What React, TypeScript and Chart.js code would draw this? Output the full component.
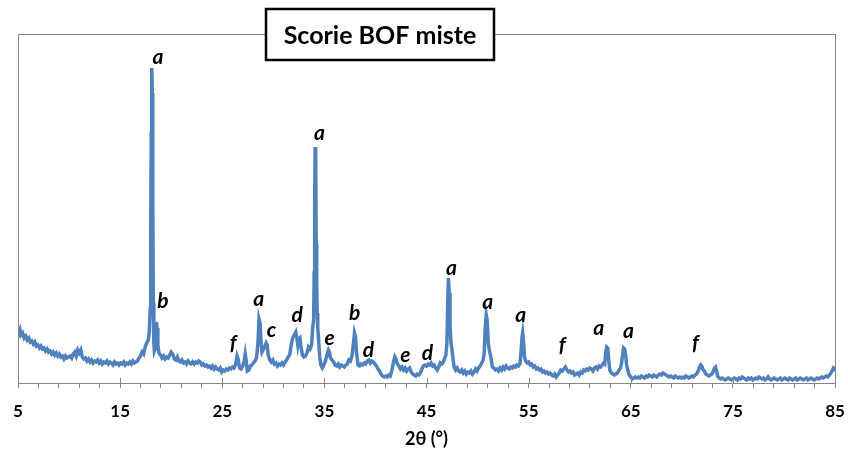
import React, { useEffect, useRef } from 'react';
import { Chart, registerables } from 'chart.js';

Chart.register(...registerables);

const chartTitle = 'Scorie BOF miste';
const xAxisTitle = '2θ (°)';
const xTickValues = [5, 7, 9, 11, 13, 15, 17, 19, 21, 23, 25, 27, 29, 31, 33, 35, 37, 39, 41, 43, 45, 47, 49, 51, 53, 55, 57, 59, 61, 63, 65, 67, 69, 71, 73, 75, 77, 79, 81, 83, 85];
const xMajorTicks = [5, 15, 25, 35, 45, 55, 65, 75, 85];

// [2θ (°), intensity]
const scan: [number, number][] = [
  [5.0, 55], [5.1, 50], [5.2, 53], [5.3, 48], [5.45, 50], [5.6, 45], [5.75, 47], [5.9, 43], [6.05, 45], [6.2, 41],
  [6.35, 42], [6.5, 39], [6.65, 41], [6.8, 37], [6.95, 38], [7.1, 35], [7.25, 37], [7.4, 34], [7.55, 35], [7.7, 32],
  [7.85, 34], [8.0, 31], [8.15, 32], [8.3, 29], [8.45, 31], [8.6, 28], [8.75, 30], [8.9, 27], [9.05, 29], [9.2, 26],
  [9.35, 27], [9.5, 24], [9.65, 27], [9.8, 25], [9.95, 26], [10.1, 27], [10.25, 25], [10.4, 29], [10.55, 31], [10.7, 27],
  [10.85, 33], [11.0, 30], [11.15, 33], [11.3, 26], [11.45, 24], [11.6, 25], [11.75, 22], [11.9, 24], [12.05, 21], [12.2, 23],
  [12.35, 20], [12.5, 22], [12.65, 21], [12.8, 23], [12.95, 20], [13.1, 22], [13.25, 19], [13.4, 21], [13.55, 20], [13.7, 22],
  [13.85, 19], [14.0, 21], [14.15, 20], [14.3, 18], [14.45, 21], [14.6, 19], [14.75, 20], [14.9, 18], [15.05, 20], [15.2, 19],
  [15.35, 21], [15.5, 18], [15.65, 20], [15.8, 19], [15.95, 21], [16.1, 19], [16.25, 22], [16.4, 20], [16.55, 21], [16.7, 22],
  [16.85, 25], [17.0, 27], [17.15, 31], [17.3, 29], [17.45, 36], [17.6, 40], [17.75, 43], [17.85, 50], [17.95, 75], [18.0, 160],
  [18.05, 250], [18.1, 315], [18.15, 290], [18.2, 180], [18.25, 80], [18.3, 40], [18.35, 32], [18.42, 34], [18.5, 50], [18.55, 61],
  [18.62, 55], [18.7, 38], [18.8, 30], [18.95, 28], [19.1, 25], [19.25, 27], [19.4, 24], [19.55, 26], [19.7, 25], [19.85, 28], [20.0, 31],
  [20.15, 29], [20.3, 24], [20.45, 23], [20.6, 26], [20.75, 22], [20.9, 21], [21.05, 23], [21.2, 20], [21.35, 21], [21.5, 19],
  [21.65, 22], [21.8, 20], [21.95, 19], [22.1, 21], [22.25, 19], [22.4, 21], [22.55, 20], [22.7, 22], [22.85, 21], [23.0, 18],
  [23.15, 19], [23.3, 17], [23.45, 18], [23.6, 16], [23.75, 17], [23.9, 15], [24.05, 17], [24.2, 14], [24.35, 16], [24.5, 14],
  [24.65, 13], [24.8, 15], [24.95, 11], [25.1, 13], [25.25, 12], [25.4, 14], [25.55, 13], [25.7, 15], [25.85, 14], [26.0, 16],
  [26.15, 15], [26.3, 18], [26.45, 27], [26.55, 24], [26.7, 15], [26.85, 14], [27.0, 17], [27.15, 22], [27.25, 29], [27.35, 22],
  [27.45, 12], [27.6, 13], [27.75, 17], [27.9, 18], [28.05, 20], [28.2, 22], [28.35, 25], [28.5, 40], [28.6, 64], [28.7, 60],
  [28.8, 40], [28.9, 31], [29.0, 33], [29.15, 36], [29.3, 40], [29.4, 38], [29.5, 28], [29.65, 23], [29.8, 21], [29.95, 23],
  [30.1, 19], [30.25, 20], [30.4, 17], [30.55, 19], [30.7, 18], [30.85, 20], [31.0, 18], [31.15, 21], [31.3, 23], [31.45, 26],
  [31.6, 28], [31.75, 38], [31.9, 45], [32.05, 48], [32.2, 51], [32.3, 46], [32.4, 38], [32.5, 44], [32.6, 45], [32.7, 37],
  [32.85, 28], [33.0, 26], [33.15, 27], [33.3, 30], [33.45, 36], [33.6, 34], [33.75, 38], [33.85, 55], [33.95, 63], [34.0, 110],
  [34.05, 180], [34.1, 236], [34.15, 225], [34.2, 140], [34.25, 93], [34.3, 70], [34.35, 56], [34.45, 40], [34.55, 26], [34.65, 18],
  [34.8, 15], [34.95, 18], [35.1, 22], [35.25, 28], [35.4, 33], [35.5, 31], [35.6, 25], [35.75, 23], [35.9, 21], [36.05, 18],
  [36.2, 17], [36.35, 19], [36.5, 16], [36.65, 18], [36.8, 17], [36.95, 16], [37.1, 18], [37.25, 19], [37.4, 23], [37.55, 22],
  [37.7, 27], [37.85, 40], [37.95, 50], [38.05, 46], [38.15, 30], [38.3, 18], [38.45, 17], [38.6, 19], [38.75, 18], [38.9, 20],
  [39.05, 19], [39.2, 22], [39.35, 23], [39.5, 20], [39.65, 22], [39.8, 21], [39.95, 19], [40.1, 17], [40.25, 14], [40.4, 12],
  [40.55, 9], [40.7, 7], [40.85, 6], [41.0, 7], [41.15, 6], [41.3, 8], [41.45, 7], [41.6, 12], [41.75, 20], [41.9, 26],
  [42.0, 24], [42.15, 19], [42.3, 17], [42.45, 14], [42.6, 16], [42.75, 13], [42.9, 15], [43.05, 12], [43.2, 14], [43.35, 15],
  [43.5, 11], [43.65, 9], [43.8, 8], [43.95, 7], [44.1, 9], [44.25, 8], [44.4, 10], [44.55, 14], [44.7, 17], [44.85, 18],
  [45.0, 17], [45.15, 19], [45.3, 18], [45.45, 20], [45.6, 17], [45.75, 18], [45.9, 15], [46.05, 13], [46.2, 16], [46.35, 20],
  [46.5, 19], [46.65, 21], [46.8, 25], [46.9, 28], [47.0, 40], [47.08, 80], [47.15, 105], [47.22, 90], [47.3, 58], [47.4, 40],
  [47.5, 33], [47.6, 24], [47.7, 16], [47.85, 13], [48.0, 15], [48.15, 12], [48.3, 11], [48.45, 13], [48.6, 10], [48.75, 12],
  [48.9, 9], [49.05, 11], [49.2, 10], [49.35, 12], [49.5, 9], [49.65, 11], [49.8, 14], [49.95, 12], [50.1, 15], [50.25, 17],
  [50.4, 20], [50.55, 23], [50.65, 30], [50.75, 55], [50.85, 68], [50.95, 62], [51.05, 40], [51.15, 33], [51.3, 26], [51.45, 16],
  [51.6, 15], [51.75, 13], [51.9, 14], [52.05, 12], [52.2, 15], [52.35, 13], [52.5, 16], [52.65, 14], [52.8, 17], [52.95, 15],
  [53.1, 14], [53.25, 16], [53.4, 15], [53.55, 17], [53.7, 16], [53.85, 18], [54.0, 17], [54.15, 19], [54.25, 30], [54.35, 45],
  [54.42, 50], [54.5, 42], [54.6, 26], [54.7, 22], [54.85, 20], [55.0, 21], [55.15, 18], [55.3, 19], [55.45, 16], [55.6, 17],
  [55.75, 14], [55.9, 15], [56.05, 13], [56.2, 14], [56.35, 11], [56.5, 12], [56.65, 10], [56.8, 11], [56.95, 9], [57.1, 10],
  [57.25, 8], [57.4, 7], [57.55, 9], [57.7, 6], [57.85, 8], [58.0, 10], [58.15, 13], [58.3, 12], [58.45, 14], [58.6, 16],
  [58.75, 13], [58.9, 11], [59.05, 12], [59.2, 10], [59.35, 11], [59.5, 8], [59.65, 9], [59.8, 10], [59.95, 8], [60.1, 11],
  [60.25, 10], [60.4, 13], [60.55, 12], [60.7, 14], [60.85, 13], [61.0, 15], [61.15, 14], [61.3, 12], [61.45, 15], [61.6, 16],
  [61.75, 14], [61.9, 17], [62.05, 16], [62.2, 18], [62.35, 20], [62.45, 19], [62.55, 30], [62.65, 36], [62.75, 35], [62.85, 22],
  [62.95, 13], [63.1, 10], [63.25, 9], [63.4, 8], [63.55, 9], [63.7, 10], [63.85, 13], [64.0, 15], [64.1, 20], [64.2, 28],
  [64.3, 35], [64.4, 34], [64.5, 28], [64.6, 18], [64.7, 13], [64.85, 8], [65.0, 6], [65.15, 4], [65.3, 5], [65.45, 6],
  [65.6, 5], [65.75, 6], [65.9, 5], [66.05, 7], [66.2, 6], [66.35, 5], [66.5, 7], [66.65, 6], [66.8, 8], [66.95, 7],
  [67.1, 6], [67.25, 8], [67.4, 7], [67.55, 6], [67.7, 8], [67.85, 9], [68.0, 8], [68.15, 10], [68.3, 9], [68.45, 8],
  [68.6, 7], [68.75, 6], [68.9, 7], [69.05, 6], [69.2, 5], [69.35, 7], [69.5, 6], [69.65, 5], [69.8, 6], [69.95, 5],
  [70.1, 6], [70.25, 5], [70.4, 7], [70.55, 6], [70.7, 5], [70.85, 6], [71.0, 7], [71.15, 6], [71.3, 8], [71.45, 9],
  [71.6, 12], [71.75, 16], [71.85, 18], [71.95, 17], [72.05, 14], [72.2, 12], [72.35, 9], [72.5, 8], [72.65, 7], [72.8, 8],
  [72.95, 9], [73.1, 12], [73.2, 15], [73.3, 16], [73.4, 12], [73.5, 7], [73.65, 5], [73.8, 4], [73.95, 5], [74.1, 4],
  [74.25, 3], [74.4, 4], [74.55, 5], [74.7, 4], [74.85, 3], [75.0, 4], [75.15, 5], [75.3, 4], [75.45, 3], [75.6, 5],
  [75.75, 4], [75.9, 6], [76.05, 5], [76.2, 4], [76.35, 3], [76.5, 5], [76.65, 4], [76.8, 5], [76.95, 3], [77.1, 4],
  [77.25, 5], [77.4, 4], [77.55, 6], [77.7, 5], [77.85, 4], [78.0, 5], [78.15, 3], [78.3, 4], [78.45, 6], [78.6, 4],
  [78.75, 3], [78.9, 4], [79.05, 5], [79.2, 4], [79.35, 3], [79.5, 4], [79.65, 5], [79.8, 3], [79.95, 4], [80.1, 5],
  [80.25, 4], [80.4, 3], [80.55, 5], [80.7, 4], [80.85, 3], [81.0, 4], [81.15, 5], [81.3, 3], [81.45, 4], [81.6, 5],
  [81.75, 4], [81.9, 3], [82.05, 4], [82.2, 5], [82.35, 3], [82.5, 4], [82.65, 5], [82.8, 4], [82.95, 3], [83.1, 4],
  [83.25, 5], [83.4, 4], [83.55, 5], [83.7, 6], [83.85, 5], [84.0, 6], [84.15, 7], [84.3, 6], [84.45, 8], [84.6, 10],
  [84.75, 13], [84.85, 15], [84.95, 14], [85.0, 15],
];

// phase labels above peaks
const peakLetters = ['a', 'b', 'f', 'a', 'c', 'd', 'a', 'e', 'b', 'd', 'e', 'd', 'a', 'a', 'a', 'f', 'a', 'a', 'f'];
const peakTheta = [18.71, 19.2, 26.08, 28.56, 29.83, 32.33, 34.53, 35.51, 37.96, 39.31, 42.94, 45.1, 47.45, 51.0, 54.23, 58.3, 61.86, 64.78, 71.34];
const peakLabelIntensity = [319, 75, 33, 77, 46, 61, 243, 38, 63, 26, 21, 23, 108, 74, 61, 31, 48, 45, 33];

const decorPlugin = {
  id: 'decor',
  afterDraw(chart: any) {
    const { ctx, chartArea: a, scales } = chart;
    const x = scales.x;
    const y = scales.y;
    ctx.save();
    // plot frame
    ctx.strokeStyle = '#868686';
    ctx.lineWidth = 1;
    ctx.strokeRect(Math.round(a.left) + 0.5, Math.round(a.top) + 0.5, Math.round(a.right - a.left), Math.round(a.bottom - a.top));
    // major tick marks crossing the axis
    ctx.beginPath();
    xMajorTicks.forEach((v) => {
      const px = Math.round(x.getPixelForValue(v)) + 0.5;
      ctx.moveTo(px, a.bottom - 5);
      ctx.lineTo(px, a.bottom);
    });
    ctx.stroke();
    // peak letters
    ctx.fillStyle = '#000';
    ctx.font = 'italic bold 21px Lato';
    ctx.textAlign = 'center';
    ctx.textBaseline = 'alphabetic';
    peakLetters.forEach((t, i) => {
      ctx.fillText(t, x.getPixelForValue(peakTheta[i]), y.getPixelForValue(peakLabelIntensity[i]));
    });
    // title box
    const bx = 266, by = 9, bw = 228, bh = 51;
    ctx.fillStyle = '#fff';
    ctx.fillRect(bx, by, bw, bh);
    ctx.strokeStyle = '#000';
    ctx.lineWidth = 2.5;
    ctx.strokeRect(bx, by, bw, bh);
    ctx.fillStyle = '#000';
    ctx.font = 'bold 25px Lato';
    ctx.textAlign = 'center';
    ctx.textBaseline = 'alphabetic';
    ctx.fillText(chartTitle, bx + bw / 2, 44);
    ctx.restore();
  },
};

export default function App() {
  const canvasRef = useRef<HTMLCanvasElement | null>(null);

  useEffect(() => {
    if (!canvasRef.current) return;
    const chart = new Chart(canvasRef.current, {
      type: 'line',
      data: {
        datasets: [
          {
            data: scan.map(([t, v]) => ({ x: t, y: v })),
            borderColor: '#4F81BD',
            borderWidth: 3.5,
            pointRadius: 0,
            tension: 0,
            fill: false,
          },
        ],
      },
      options: {
        animation: false,
        responsive: true,
        maintainAspectRatio: false,
        layout: { padding: { left: 18, right: 13, top: 34, bottom: 0 } },
        plugins: { legend: { display: false }, tooltip: { enabled: false }, title: { display: false } },
        scales: {
          x: {
            type: 'linear',
            min: 5,
            max: 85,
            afterBuildTicks: (s: any) => {
              s.ticks = xTickValues.map((v) => ({ value: v }));
            },
            afterFit: (s: any) => {
              s.height = 69;
              s.paddingLeft = 0;
              s.paddingRight = 0;
            },
            ticks: {
              autoSkip: false,
              maxRotation: 0,
              padding: 13,
              color: '#000',
              font: { family: 'Lato', weight: 'bold', size: 17 },
              callback: (v: any) => (xMajorTicks.includes(Number(v)) ? String(v) : ''),
            },
            grid: { drawOnChartArea: false, tickLength: 5, color: '#868686' },
            border: { display: false },
            title: {
              display: true,
              text: xAxisTitle,
              color: '#000',
              font: { family: 'Lato', weight: 'bold', size: 18 },
              padding: { top: 0, bottom: 2 },
            },
          },
          y: { display: false, min: 0, max: 349 },
        },
      },
      plugins: [decorPlugin],
    });
    return () => chart.destroy();
  }, []);

  return (
    <div style={{ position: 'fixed', left: 0, top: 0, width: 848, height: 452, background: '#fff' }}>
      <canvas ref={canvasRef} />
    </div>
  );
}
